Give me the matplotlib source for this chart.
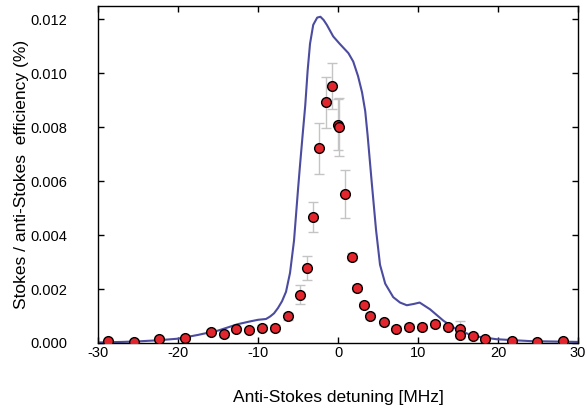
import numpy as np
import matplotlib
matplotlib.use("Agg")
import matplotlib.pyplot as plt

plt.rcParams["font.family"] = ["Liberation Sans", "DejaVu Sans"]
plt.rcParams["axes.unicode_minus"] = False

# measured anti-Stokes efficiency (points with error bars)
detuning = [-28.7, -25.5, -22.4, -19.1, -15.9, -14.3, -12.75, -11.1, -9.5, -7.9,
            -6.3, -4.8, -3.9, -3.17, -2.33, -1.5, -0.75, 0.04, 0.08, 0.87,
            1.7, 2.4, 3.25, 4.05, 5.7, 7.3, 8.9, 10.5, 12.1, 13.7,
            15.3, 15.3, 16.9, 18.4, 21.7, 24.9, 28.1]
efficiency = [0.00007, 0.00005, 0.00016, 0.00017, 0.00041, 0.00032, 0.00051, 0.00047, 0.00057, 0.00056,
              0.00099, 0.00179, 0.00278, 0.00467, 0.00722, 0.00893, 0.00953, 0.00810, 0.00800, 0.00554,
              0.00320, 0.00204, 0.00142, 0.00100, 0.00077, 0.00053, 0.00059, 0.00060, 0.00071, 0.00058,
              0.00053, 0.00030, 0.00026, 0.00014, 0.00009, 0.00005, 0.00006]
errors = [0.00005, 0.00005, 0.00005, 0.00005, 0.00008, 0.00008, 0.00008, 0.00008, 0.0001, 0.0001,
          0.00012, 0.00036, 0.00045, 0.00055, 0.00095, 0.00094, 0.00084, 0.00094, 0.00107, 0.00089,
          0.00012, 0.0001, 0.0001, 0.0001, 0.0001, 0.0001, 0.0001, 0.0001, 0.0001, 0.0001,
          0.00029, 0.0001, 0.0001, 0.00005, 0.00005, 0.00005, 0.00005]

# theory curve
curve_x = [-30, -27, -25, -22.5, -20, -17.5, -15, -12.5, -11, -10, -9, -8.5, -8, -7.5, -7,
           -6.5, -6, -5.5, -5, -4.75, -4.4, -4.1, -3.8, -3.5, -3.1, -2.6, -2.2, -1.8, -1.4,
           -0.6, 0.2, 1.3, 1.9, 2.5, 3.0, 3.4, 3.7, 4.2, 4.75, 5.25, 5.9, 6.9, 7.75, 8.6,
           9.5, 10.2, 11.5, 13.2, 14.8, 16.9, 19.8, 24, 30]
curve_y = [0.00002, 0.00004, 0.00006, 0.0001, 0.00016, 0.0003, 0.00046, 0.0007, 0.0008, 0.00086,
           0.00089, 0.00098, 0.0011, 0.0013, 0.00155, 0.0019, 0.0026, 0.0038, 0.0057, 0.0066,
           0.0078, 0.0088, 0.0101, 0.0111, 0.0118, 0.01207, 0.0121, 0.01198, 0.0118, 0.01137,
           0.0111, 0.01075, 0.01044, 0.0099, 0.0093, 0.0086, 0.0077, 0.0060, 0.0042, 0.0029,
           0.0022, 0.0017, 0.0015, 0.0014, 0.00145, 0.0015, 0.00125, 0.00082, 0.00051, 0.00026,
           0.00014, 0.00007, 0.00004]


fig = plt.figure(figsize=(5.87, 4.12), dpi=100)
ax = fig.add_axes([0.167, 0.1675, 0.8177, 0.818])

ax.plot(curve_x, curve_y, color="#4b4ba0", linewidth=1.5, zorder=2)

ax.errorbar(detuning, efficiency, yerr=errors, fmt="none", ecolor="#c4c4c4",
            elinewidth=1.0, capsize=3.5, capthick=1.0, zorder=3)
ax.plot(detuning, efficiency, "o", markersize=7, markerfacecolor="#e3262d",
        markeredgecolor="black", markeredgewidth=1.0, zorder=4)

ax.set_xlim(-30, 30)
ax.set_ylim(0, 0.0125)
ax.set_xticks([-30, -20, -10, 0, 10, 20, 30])
ax.set_yticks(np.arange(0, 0.0121, 0.002))
ax.yaxis.set_major_formatter(matplotlib.ticker.FormatStrFormatter("%.3f"))

ax.tick_params(direction="in", top=True, right=True, length=4, width=1,
               labelsize=10.5, colors="black")
ax.tick_params(axis="y", pad=22)
ax.tick_params(axis="x", pad=2)
for s in ax.spines.values():
    s.set_linewidth(1.0)

ax.set_xlabel("Anti-Stokes detuning [MHz]", fontsize=12.5, labelpad=22)
ax.set_ylabel("Stokes / anti-Stokes  efficiency (%)", fontsize=12.5, labelpad=1)

fig.savefig("out.png", dpi=100)
